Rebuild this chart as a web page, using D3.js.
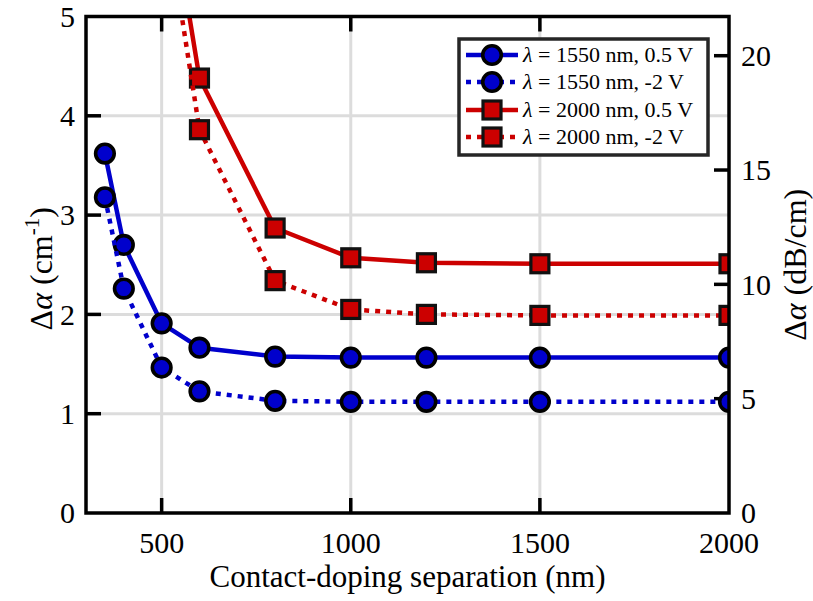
<!DOCTYPE html>
<html><head><meta charset="utf-8">
<script src="https://cdn.jsdelivr.net/npm/d3@7"></script>
<style>body{margin:0;background:#fff} svg text{font-family:"Liberation Serif","Times New Roman",Times,serif;}</style>
</head><body><svg id="c" width="813" height="601"></svg>
<script>
// ---- data ----
const separations = [350, 400, 500, 600, 800, 1000, 1200, 1500, 2000];
const blue05 = [3.62, 2.70, 1.91, 1.665, 1.575, 1.565, 1.565, 1.565, 1.565];
const blueM2 = [3.18, 2.26, 1.465, 1.225, 1.13, 1.12, 1.12, 1.12, 1.12];
const red05  = [12.0, 9.2, 6.7, 4.38, 2.87, 2.57, 2.52, 2.51, 2.51];
const redM2  = [11.0, 8.6, 6.3, 3.86, 2.34, 2.05, 2.00, 1.99, 1.99];
const seriesLabels = ["1550 nm, 0.5 V", "1550 nm, -2 V", "2000 nm, 0.5 V", "2000 nm, -2 V"];
const xTicks = [500, 1000, 1500, 2000];
const yTicks = [0, 1, 2, 3, 4, 5];
const yRightTicks = [0, 5, 10, 15, 20];
const dBperInvCm = 10 * Math.LOG10E;

const svg = d3.select("#c");
const L = 86, R = 729, T = 16.5, B = 513;
const x = d3.scaleLinear().domain([300, 2000]).range([L, R]);
const y = d3.scaleLinear().domain([0, 5]).range([B, T]);
const y2 = d3.scaleLinear().domain([0, 5 * dBperInvCm]).range([B, T]);

const BLUE = "#0000cc", RED = "#cc0000";
const series = [
  {vals: blue05, color: BLUE, dash: null, shape: "circle"},
  {vals: blueM2, color: BLUE, dash: "5,6", shape: "circle"},
  {vals: red05,  color: RED,  dash: null, shape: "square"},
  {vals: redM2,  color: RED,  dash: "5,6", shape: "square"}
];

svg.append("defs").append("clipPath").attr("id", "clip")
  .append("rect").attr("x", L).attr("y", T).attr("width", R - L).attr("height", B - T);

// grid
const grid = svg.append("g");
grid.selectAll(".gx").data(xTicks.filter(d => d < 2000)).enter().append("line")
  .attr("x1", d => x(d)).attr("x2", d => x(d)).attr("y1", T).attr("y2", B)
  .attr("stroke", "#dcdcdc").attr("stroke-width", 3);
grid.selectAll(".gy").data(yTicks.filter(d => d > 0 && d < 5)).enter().append("line")
  .attr("y1", d => y(d)).attr("y2", d => y(d)).attr("x1", L).attr("x2", R)
  .attr("stroke", "#dcdcdc").attr("stroke-width", 3);

// ticks (inward)
const TL = 15, TW = 3.5;
const tk = svg.append("g").attr("stroke", "#000").attr("stroke-width", TW);
xTicks.filter(d => d < 2000).forEach(d => {
  tk.append("line").attr("x1", x(d)).attr("x2", x(d)).attr("y1", B).attr("y2", B - TL);
  tk.append("line").attr("x1", x(d)).attr("x2", x(d)).attr("y1", T).attr("y2", T + TL);
});
yTicks.filter(d => d > 0 && d < 5).forEach(d => {
  tk.append("line").attr("x1", L).attr("x2", L + TL).attr("y1", y(d)).attr("y2", y(d));
});
yRightTicks.filter(d => d > 0).forEach(d => {
  tk.append("line").attr("x1", R).attr("x2", R - TL).attr("y1", y2(d)).attr("y2", y2(d));
});

// plot series
const plot = svg.append("g").attr("clip-path", "url(#clip)");
const line = d3.line().x(d => x(d[0])).y(d => y(d[1]));
function marker(g, shape, color, cx, cy) {
  if (shape === "circle") {
    g.append("circle").attr("cx", cx).attr("cy", cy).attr("r", 9.3)
      .attr("fill", color).attr("stroke", "#000").attr("stroke-width", 3.6);
  } else {
    g.append("rect").attr("x", cx - 9).attr("y", cy - 9).attr("width", 18).attr("height", 18)
      .attr("fill", color).attr("stroke", "#111").attr("stroke-width", 3.2);
  }
}
series.forEach(s => {
  const pts = separations.map((sx, i) => [sx, s.vals[i]]);
  const g = plot.append("g");
  g.append("path").attr("d", line(pts)).attr("fill", "none")
    .attr("stroke", s.color).attr("stroke-width", 4.5)
    .attr("stroke-linejoin", "round")
    .attr("stroke-dasharray", s.dash);
  pts.forEach(p => marker(g, s.shape, s.color, x(p[0]), y(p[1])));
});

// axes box
svg.append("rect").attr("x", L).attr("y", T).attr("width", R - L).attr("height", B - T)
  .attr("fill", "none").attr("stroke", "#000").attr("stroke-width", 3.5);

// tick labels
const lab = svg.append("g").attr("font-size", 30).attr("fill", "#000");
xTicks.forEach(d => lab.append("text").attr("x", x(d)).attr("y", 553).attr("text-anchor", "middle").text(d));
yTicks.forEach(d => lab.append("text").attr("x", L - 11).attr("y", y(d)).attr("dy", "0.34em").attr("text-anchor", "end").text(d));
yRightTicks.forEach(d => lab.append("text").attr("x", R + 12).attr("y", y2(d)).attr("dy", "0.34em").attr("text-anchor", "start").text(d));

// axis labels
svg.append("text").attr("x", (L + R) / 2).attr("y", 587).attr("text-anchor", "middle")
  .attr("font-size", 31).text("Contact-doping separation (nm)");

const yl = svg.append("text").attr("transform", `translate(52,${(T + B) / 2 + 4}) rotate(-90)`)
  .attr("text-anchor", "middle").attr("font-size", 32);
yl.append("tspan").text("Δ");
yl.append("tspan").attr("font-style", "italic").text("α");
yl.append("tspan").text(" (cm");
yl.append("tspan").attr("font-size", 21).attr("dy", -13).text("-1");
yl.append("tspan").attr("dy", 13).text(")");

const yr = svg.append("text").attr("transform", `translate(806,${(T + B) / 2}) rotate(-90)`)
  .attr("text-anchor", "middle").attr("font-size", 32);
yr.append("tspan").text("Δ");
yr.append("tspan").attr("font-style", "italic").text("α");
yr.append("tspan").text(" (dB/cm)");

// legend
const lg = svg.append("g");
lg.append("rect").attr("x", 459).attr("y", 39).attr("width", 249).attr("height", 116)
  .attr("fill", "#fff").attr("stroke", "#262626").attr("stroke-width", 3.5);
const rowY = [55, 82, 110, 137];
series.forEach((s, i) => {
  const ry = rowY[i];
  lg.append("line").attr("x1", 466).attr("x2", 518).attr("y1", ry).attr("y2", ry)
    .attr("stroke", s.color).attr("stroke-width", 4.5).attr("stroke-dasharray", s.dash);
  marker(lg, s.shape, s.color, 492, ry);
  const t = lg.append("text").attr("x", 523).attr("y", ry).attr("dy", "0.34em")
    .attr("font-size", 22);
  t.append("tspan").attr("font-style", "italic").text("λ");
  t.append("tspan").text(" = " + seriesLabels[i]);
});
</script></body></html>
